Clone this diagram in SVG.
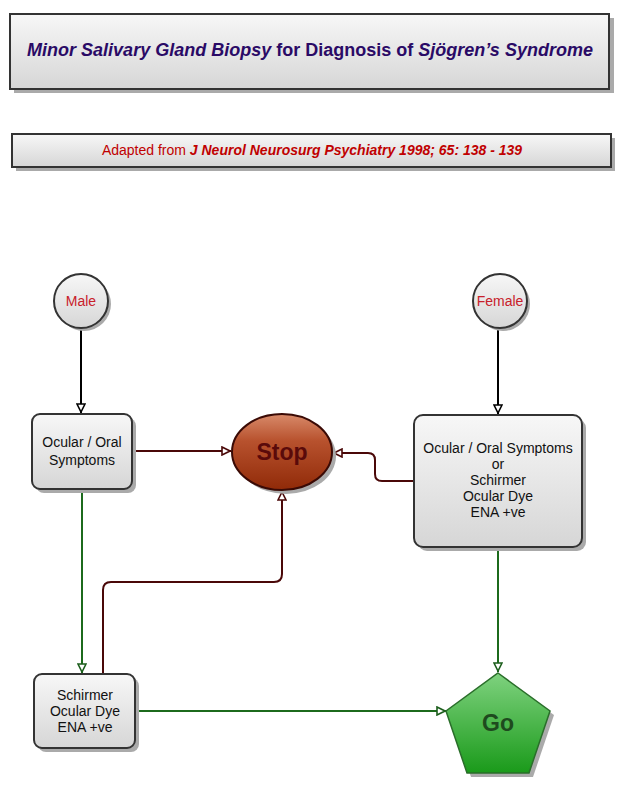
<svg xmlns="http://www.w3.org/2000/svg" width="621" height="793" viewBox="0 0 621 793">
<defs>
<linearGradient id="gBox" x1="0" y1="0" x2="0" y2="1">
<stop offset="0" stop-color="#f7f7f7"/><stop offset="1" stop-color="#d6d6d6"/>
</linearGradient>
<linearGradient id="gStop" x1="0" y1="0" x2="0" y2="1">
<stop offset="0" stop-color="#d88a6a"/><stop offset="0.35" stop-color="#b8522e"/><stop offset="1" stop-color="#902a08"/>
</linearGradient>
<linearGradient id="gGo" x1="0" y1="0" x2="0" y2="1">
<stop offset="0" stop-color="#7fd27f"/><stop offset="1" stop-color="#1a9a1a"/>
</linearGradient>
<marker id="aBlack" viewBox="0 0 10 10" refX="10" refY="5" markerWidth="10" markerHeight="10" markerUnits="userSpaceOnUse" orient="auto">
<path d="M1,1 L9,5 L1,9 Z" fill="#fff" stroke="#000" stroke-width="1.6"/>
</marker>
<marker id="aRed" viewBox="0 0 10 10" refX="10" refY="5" markerWidth="10" markerHeight="10" markerUnits="userSpaceOnUse" orient="auto">
<path d="M1,1 L9,5 L1,9 Z" fill="#fff" stroke="#4a0808" stroke-width="1.6"/>
</marker>
<marker id="aGreen" viewBox="0 0 10 10" refX="10" refY="5" markerWidth="10" markerHeight="10" markerUnits="userSpaceOnUse" orient="auto">
<path d="M1,1 L9,5 L1,9 Z" fill="#fff" stroke="#1c5e1c" stroke-width="1.6"/>
</marker>
</defs>
<style>
.box{fill:url(#gBox);stroke:#333;stroke-width:2}
.sh{fill:#aaa}
.t{font-family:"Liberation Sans",Arial,sans-serif;font-size:14px;fill:#111;text-anchor:middle}
.red{fill:#c8202a}
.cb{fill:none;stroke:#000;stroke-width:2}
.cr{fill:none;stroke:#4a0808;stroke-width:2}
.cg{fill:none;stroke:#1c6a1c;stroke-width:2}
</style>
<rect width="621" height="793" fill="#fff"/>

<g id="title">
<rect class="sh" x="14" y="18" width="600" height="75"/>
<rect class="box" x="10" y="14" width="599" height="75"/>
<text x="310" y="56" text-anchor="middle" font-family="Liberation Sans,Arial,sans-serif" font-size="18" font-weight="bold" fill="#2a0a66"><tspan font-style="italic">Minor Salivary Gland Biopsy</tspan> for Diagnosis of <tspan font-style="italic">Sjögren’s Syndrome</tspan></text>
</g>

<g id="subtitle">
<rect class="sh" x="16" y="138" width="599" height="33"/>
<rect class="box" x="12" y="134" width="599" height="33"/>
<text x="312" y="155" text-anchor="middle" font-family="Liberation Sans,Arial,sans-serif" font-size="14" fill="#c00000">Adapted from <tspan font-weight="bold" font-style="italic">J Neurol Neurosurg Psychiatry 1998; 65: 138 - 139</tspan></text>
</g>

<g id="connectors">
<path class="cb" d="M81,329 V413" marker-end="url(#aBlack)"/>
<path class="cb" d="M498,329 V414" marker-end="url(#aBlack)"/>
<path class="cr" d="M133,451 H231" marker-end="url(#aRed)"/>
<path class="cr" d="M414,481 H382 Q375,481 375,474 V460 Q375,453 368,453 H333" marker-end="url(#aRed)"/>
<path class="cr" d="M103,674 V590 Q103,582 111,582 H274 Q282,582 282,574 V491" marker-end="url(#aRed)"/>
<path class="cg" d="M82,490 V673" marker-end="url(#aGreen)"/>
<path class="cg" d="M136,711 H446" marker-end="url(#aGreen)"/>
<path class="cg" d="M498,548 V672" marker-end="url(#aGreen)"/>
</g>

<g id="male">
<circle class="sh" cx="84" cy="304" r="27"/>
<circle class="box" cx="81" cy="301" r="27"/>
<text class="t red" x="81" y="306">Male</text>
</g>

<g id="female">
<circle class="sh" cx="503" cy="304" r="27"/>
<circle class="box" cx="500" cy="301" r="27"/>
<text class="t red" x="500" y="306">Female</text>
</g>

<g id="ocular-left">
<rect class="sh" x="36" y="418" width="100" height="75" rx="8"/>
<rect class="box" x="32" y="414" width="100" height="75" rx="8"/>
<text class="t" x="82" y="447">Ocular / Oral</text>
<text class="t" x="82" y="465">Symptoms</text>
</g>

<g id="stop">
<ellipse cx="286" cy="456" rx="50" ry="38" fill="#aaa"/>
<ellipse cx="282" cy="452" rx="50" ry="38" fill="url(#gStop)" stroke="#3a0a05" stroke-width="2"/>
<text x="282" y="460" text-anchor="middle" font-family="Liberation Sans,Arial,sans-serif" font-size="23" font-weight="bold" fill="#5a0a0a">Stop</text>
</g>

<g id="ocular-right">
<rect class="sh" x="418" y="419" width="168" height="132" rx="9"/>
<rect class="box" x="414" y="415" width="168" height="132" rx="9"/>
<text class="t" x="498" y="453">Ocular / Oral Symptoms</text>
<text class="t" x="498" y="469">or</text>
<text class="t" x="498" y="485">Schirmer</text>
<text class="t" x="498" y="501">Ocular Dye</text>
<text class="t" x="498" y="517">ENA +ve</text>
</g>

<g id="schirmer">
<rect class="sh" x="38" y="678" width="101" height="74" rx="8"/>
<rect class="box" x="34" y="674" width="101" height="74" rx="8"/>
<text class="t" x="85" y="700">Schirmer</text>
<text class="t" x="85" y="716">Ocular Dye</text>
<text class="t" x="85" y="732">ENA +ve</text>
</g>

<g id="go">
<polygon points="502,677 554,715 533,777 471,777 450,715" fill="#aaa"/>
<polygon points="498,673 550,711 529,773 467,773 446,711" fill="url(#gGo)" stroke="#2a6e2a" stroke-width="1.5"/>
<text x="498" y="731" text-anchor="middle" font-family="Liberation Sans,Arial,sans-serif" font-size="23" font-weight="bold" fill="#1e4a1e">Go</text>
</g>
</svg>
